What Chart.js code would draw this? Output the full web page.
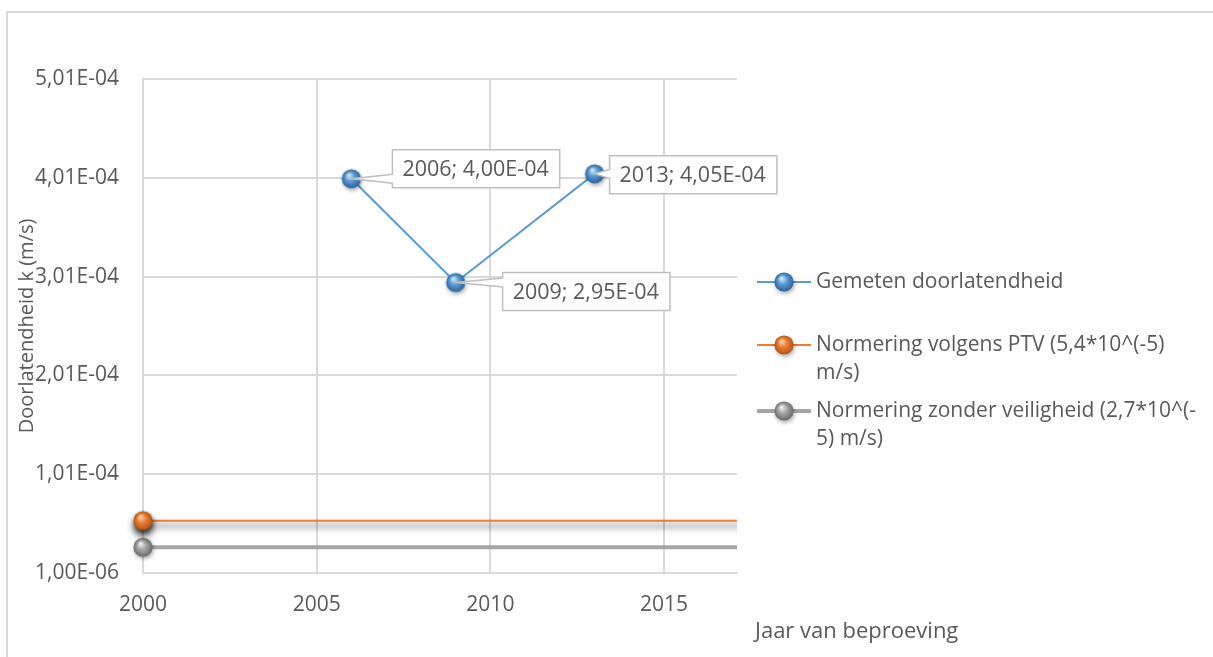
<!DOCTYPE html>
<html>
<head>
<meta charset="utf-8">
<script src="https://cdn.jsdelivr.net/npm/chart.js@4/dist/chart.umd.min.js"></script>
<style>
  html, body { margin: 0; padding: 0; background: #fff; }
  #wrap { position: relative; width: 1213px; height: 657px; overflow: hidden; }
  #frame { position: absolute; left: 6px; top: 11px; width: 1400px; height: 900px;
           border-top: 2px solid #d9d9d9; border-left: 2px solid #d9d9d9; }
  #c { position: absolute; left: 0; top: 0; }
</style>
</head>
<body>
<div id="wrap">
  <div id="frame"></div>
  <canvas id="c" width="1213" height="657"></canvas>
</div>
<script>
// meetwaarden
const measuredYears = [2006, 2009, 2013];
const measuredValues = [4.00e-4, 2.95e-4, 4.05e-4];

// normlijnen (lopen door tot buiten de grafiek)
const normYears = [2000, 2020];
const ptvValues = [5.4e-5, 5.4e-5];
const noSafetyValues = [2.7e-5, 2.7e-5];

const xTicks = [2000, 2005, 2010, 2015];
const yTicks = [1.00e-6, 1.01e-4, 2.01e-4, 3.01e-4, 4.01e-4, 5.01e-4];

const seriesLabels = [
  'Gemeten doorlatendheid',
  'Normering volgens PTV (5,4*10^(-5) m/s)',
  'Normering zonder veiligheid (2,7*10^(-5) m/s)'
];
const legendLines = [
  ['Gemeten doorlatendheid'],
  ['Normering volgens PTV (5,4*10^(-5)', 'm/s)'],
  ['Normering zonder veiligheid (2,7*10^(-', '5) m/s)']
];
const yTitle = 'Doorlatendheid k (m/s)';
const xTitle = 'Jaar van beproeving';

const FONT = '"Open Sans", "Liberation Sans", sans-serif';
const TEXT = '#595959';
const GRID = '#d9d9d9';

// 1.01e-4 -> "1,01E-04"
function fmtExp(v) {
  const parts = v.toExponential(2).split('e');
  const exp = parseInt(parts[1], 10);
  const sign = exp < 0 ? '-' : '+';
  return parts[0].replace('.', ',') + 'E' + sign + String(Math.abs(exp)).padStart(2, '0');
}

// bolletjes zoals in Excel
function makeSphere(light, base, dark) {
  const size = 30;
  const cv = document.createElement('canvas');
  cv.width = size; cv.height = size;
  const g = cv.getContext('2d');
  const c = size / 2, r = 9.6;
  g.save();
  g.shadowColor = 'rgba(0,0,0,0.35)';
  g.shadowBlur = 4;
  g.shadowOffsetX = 1;
  g.shadowOffsetY = 2;
  const grad = g.createRadialGradient(c - 2.5, c - 4, 0.5, c, c, r);
  grad.addColorStop(0, light);
  grad.addColorStop(0.45, base);
  grad.addColorStop(1, dark);
  g.fillStyle = grad;
  g.beginPath();
  g.arc(c, c, r, 0, Math.PI * 2);
  g.fill();
  g.restore();
  return cv;
}

const blueBall = makeSphere('#d6ebfb', '#5b9bd5', '#2a649c');
const orangeBall = makeSphere('#ffd9b5', '#ed7d31', '#b0531a');
const greyBall = makeSphere('#f2f2f2', '#a5a5a5', '#6b6b6b');

// positie van de labelkaders t.o.v. het punt
const labelOffsets = [
  { dx: 41, dy: -29 },
  { dx: 47, dy: -10 },
  { dx: 15, dy: -18 }
];

const dataLabels = {
  id: 'dataLabels',
  afterDatasetsDraw(chart) {
    const ctx = chart.ctx;
    const meta = chart.getDatasetMeta(0);
    const ds = chart.data.datasets[0];
    ctx.save();
    ctx.font = '21.5px ' + FONT;
    meta.data.forEach((pt, i) => {
      const d = ds.data[i];
      const text = d.x + '; ' + fmtExp(d.y);
      const w = ctx.measureText(text).width + 21;
      const h = 38;
      const left = pt.x + labelOffsets[i].dx;
      const top = pt.y + labelOffsets[i].dy;
      const mid = Math.min(Math.max(pt.y, top + 6), top + h - 6);

      ctx.beginPath();
      ctx.moveTo(left, top);
      ctx.lineTo(left + w, top);
      ctx.lineTo(left + w, top + h);
      ctx.lineTo(left, top + h);
      ctx.lineTo(left, mid + 4.5);
      ctx.lineTo(pt.x, pt.y);
      ctx.lineTo(left, mid - 4.5);
      ctx.closePath();
      ctx.fillStyle = '#fff';
      ctx.fill();
      ctx.strokeStyle = '#bfbfbf';
      ctx.lineWidth = 1.5;
      ctx.stroke();

      ctx.fillStyle = TEXT;
      ctx.textAlign = 'left';
      ctx.textBaseline = 'middle';
      ctx.fillText(text, left + 10, top + h / 2 + 1);
    });
    ctx.restore();
  }
};

// schaduw onder de oranje lijn
const lineShadow = {
  id: 'lineShadow',
  beforeDatasetDraw(chart, args) {
    if (args.index !== 1) return;
    const ctx = chart.ctx;
    ctx.save();
    ctx.shadowColor = 'rgba(0,0,0,0.75)';
    ctx.shadowBlur = 7;
    ctx.shadowOffsetY = 5;
  },
  afterDatasetDraw(chart, args) {
    if (args.index !== 1) return;
    chart.ctx.restore();
  }
};

const titlesAndLegend = {
  id: 'titlesAndLegend',
  afterDraw(chart) {
    const ctx = chart.ctx;
    const area = chart.chartArea;
    ctx.save();
    ctx.fillStyle = TEXT;

    // as-titels
    ctx.font = '20px ' + FONT;
    ctx.save();
    ctx.translate(27, (area.top + area.bottom) / 2);
    ctx.rotate(-Math.PI / 2);
    ctx.textAlign = 'center';
    ctx.textBaseline = 'middle';
    ctx.fillText(yTitle, 0, 0);
    ctx.restore();

    ctx.font = '22px ' + FONT;
    ctx.textAlign = 'left';
    ctx.textBaseline = 'middle';
    ctx.fillText(xTitle, 755, 632);

    // legenda
    const rows = [282, 345, 411];
    const lineH = 28;
    ctx.font = '21px ' + FONT;
    chart.data.datasets.forEach((ds, i) => {
      const y = rows[i];
      ctx.strokeStyle = ds.borderColor;
      ctx.lineWidth = ds.borderWidth;
      ctx.beginPath();
      ctx.moveTo(757, y);
      ctx.lineTo(811, y);
      ctx.stroke();
      const img = ds.pointStyle;
      ctx.drawImage(img, 784 - img.width / 2, y - img.height / 2);
      ctx.fillStyle = TEXT;
      legendLines[i].forEach((t, k) => ctx.fillText(t, 816, y + k * lineH));
    });
    ctx.restore();
  }
};

new Chart(document.getElementById('c'), {
  type: 'scatter',
  data: {
    datasets: [
      {
        label: seriesLabels[0],
        data: measuredYears.map((x, i) => ({ x, y: measuredValues[i] })),
        showLine: true,
        borderColor: '#5b9bd5',
        borderWidth: 2,
        pointStyle: blueBall,
        pointRadius: 10,
        clip: false
      },
      {
        label: seriesLabels[1],
        data: normYears.map((x, i) => ({ x, y: ptvValues[i] })),
        showLine: true,
        borderColor: '#ed7d31',
        borderWidth: 2,
        pointStyle: orangeBall,
        pointRadius: 10,
        clip: { left: 20, top: 20, right: 0, bottom: 20 }
      },
      {
        label: seriesLabels[2],
        data: normYears.map((x, i) => ({ x, y: noSafetyValues[i] })),
        showLine: true,
        borderColor: '#a5a5a5',
        borderWidth: 4,
        pointStyle: greyBall,
        pointRadius: 10,
        clip: { left: 20, top: 20, right: 0, bottom: 20 }
      }
    ]
  },
  options: {
    responsive: false,
    devicePixelRatio: 1,
    animation: false,
    layout: {
      padding: { left: 0, top: 79, right: 476, bottom: 0 }
    },
    plugins: {
      legend: { display: false },
      tooltip: { enabled: false }
    },
    scales: {
      x: {
        type: 'linear',
        min: 2000,
        max: 2017.1,
        afterBuildTicks: scale => { scale.ticks = xTicks.map(v => ({ value: v })); },
        afterFit: scale => { scale.height = 84; },
        grid: { color: GRID, lineWidth: 2, drawTicks: false },
        border: { color: GRID, width: 2 },
        ticks: {
          color: TEXT,
          font: { family: FONT, size: 21 },
          padding: 19,
          callback: v => String(v)
        }
      },
      y: {
        type: 'linear',
        min: 1.00e-6,
        max: 5.01e-4,
        afterBuildTicks: scale => { scale.ticks = yTicks.map(v => ({ value: v })); },
        afterFit: scale => { scale.width = 143; },
        grid: { color: GRID, lineWidth: 2, drawTicks: false },
        border: { color: GRID, width: 2 },
        ticks: {
          color: TEXT,
          font: { family: FONT, size: 21 },
          padding: 24,
          callback: v => fmtExp(v)
        }
      }
    }
  },
  plugins: [lineShadow, dataLabels, titlesAndLegend]
});
</script>
</body>
</html>
